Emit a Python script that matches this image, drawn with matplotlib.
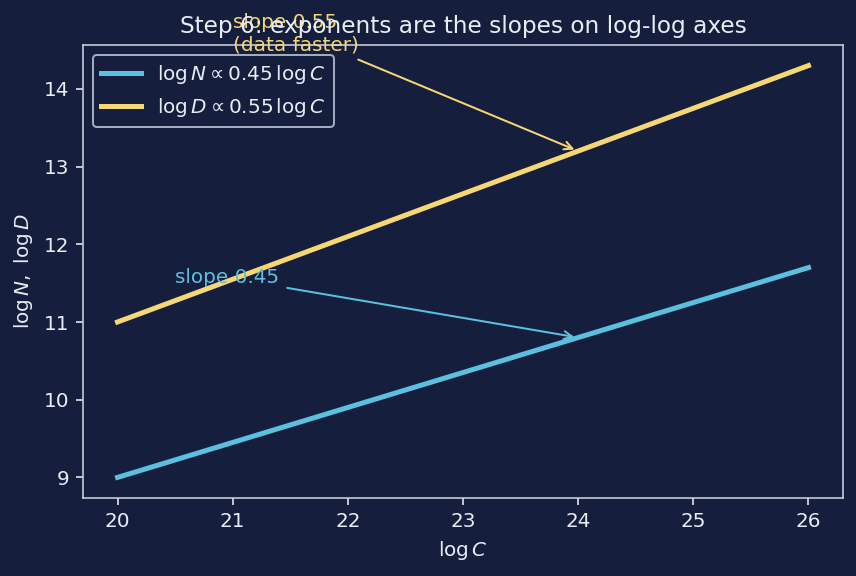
import matplotlib
matplotlib.use('Agg')
import matplotlib.pyplot as plt
import numpy as np

bg = '#151f3d'
fg = '#e8ecf4'
cyan = '#5bc0de'
gold = '#f7d774'

log_c = [20, 21, 22, 23, 24, 25, 26]
log_n = [9.0, 9.45, 9.9, 10.35, 10.8, 11.25, 11.7]
log_d = [11.0, 11.55, 12.1, 12.65, 13.2, 13.75, 14.3]

fig, ax = plt.subplots(figsize=(856 / 144, 576 / 144), dpi=144)
fig.patch.set_facecolor(bg)
ax.set_facecolor(bg)

ax.plot(log_c, log_n, color=cyan, lw=2.5, label=r'$\log N \propto 0.45\,\log C$')
ax.plot(log_c, log_d, color=gold, lw=2.5, label=r'$\log D \propto 0.55\,\log C$')

ax.annotate('slope 0.45', xy=(24, 10.8), xytext=(20.5, 11.5), color=cyan,
            fontsize=10, arrowprops=dict(arrowstyle='->', color=cyan, lw=1))
ax.annotate('slope 0.55\n(data faster)', xy=(24, 13.2), xytext=(21, 14.5), color=gold,
            fontsize=10, arrowprops=dict(arrowstyle='->', color=gold, lw=1))

ax.set_title('Step 6: exponents are the slopes on log-log axes', color=fg, fontsize=11.6)
ax.set_xlabel(r'$\log C$', color=fg)
ax.set_ylabel(r'$\log N,\ \log D$', color=fg)
ax.tick_params(colors=fg)
for s in ax.spines.values():
    s.set_color('#c8d0e0')

leg = ax.legend(loc='upper left', facecolor=bg, edgecolor='#c8d0e0', labelcolor=fg)

fig.subplots_adjust(left=83 / 856, right=843 / 856, top=1 - 45 / 576, bottom=1 - 498 / 576)
fig.savefig('out.png', facecolor=bg)
